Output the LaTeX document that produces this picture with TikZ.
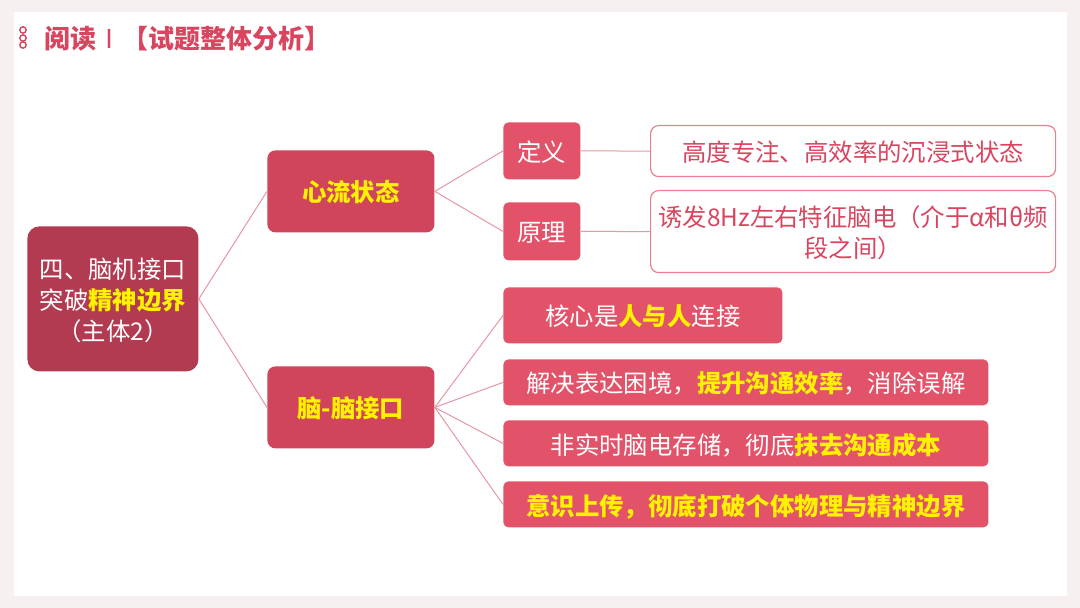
\documentclass[tikz,border=0pt]{standalone}
\usepackage{fontspec}
\setmainfont{Noto Sans CJK SC}
\definecolor{pagebg}{HTML}{F6F0F0}
\definecolor{titlered}{HTML}{D9455F}
\definecolor{rootred}{HTML}{B23A51}
\definecolor{midred}{HTML}{D0455C}
\definecolor{leafred}{HTML}{E2536A}
\definecolor{linkpink}{HTML}{E597A5}
\definecolor{framepink}{HTML}{E7808F}
\definecolor{hl}{HTML}{FFF200}
\newcommand{\hy}[1]{{\bfseries\color{hl}#1}}

\begin{document}
\begin{tikzpicture}[x=0.5pt,y=-0.5pt,font=\fontsize{12.2}{15.5}\selectfont,text depth=0pt,align=center,
  box/.style={anchor=north west,inner sep=0pt,text=white},
  rootbox/.style={box,fill=rootred,rounded corners=6pt},
  midbox/.style={box,fill=midred,rounded corners=4pt,font=\fontsize{12.2}{15.5}\selectfont\bfseries,text=hl},
  leafbox/.style={box,fill=leafred,rounded corners=2.5pt},
  notebox/.style={box,fill=white,draw=framepink,line width=0.6pt,rounded corners=4pt,text=titlered},
  link/.style={draw=linkpink,line width=0.5pt}]
\useasboundingbox (0,0) rectangle (1080,608);
\fill[pagebg] (0,0) rectangle (1080,608);
\fill[white] (14,12) rectangle (1067,596);

% title
\foreach \y in {30,38,45}
  \draw[titlered,line width=0.7pt] (23,\y) circle (3.2);
\node[anchor=west,text=titlered,font=\fontsize{13}{15}\selectfont\bfseries] (title) at (37,37)
  {阅读{\mdseries Ⅰ}【试题整体分析】};

% boxes
\node[rootbox,minimum width=85.5pt,minimum height=72.5pt] (root)  at ( 27,226)
  {四、脑机接口\\突破\hy{精神边界}\\（主体2）};
\node[midbox,minimum width=83.5pt,minimum height=41pt]    (flow)  at (267,150) {心流状态};
\node[midbox,minimum width=83.5pt,minimum height=41pt]    (b2b)   at (267,366) {脑-脑接口};

\node[leafbox,minimum width=38.5pt,minimum height=28.5pt] (defn)  at (503,122) {定义};
\node[leafbox,minimum width=38.5pt,minimum height=29pt]   (prin)  at (503,202) {原理};
\node[notebox,minimum width=202.5pt,minimum height=25.5pt] (defnT) at (650,125)
  {高度专注、高效率的沉浸式状态};
\node[notebox,minimum width=202.5pt,minimum height=41pt]  (prinT) at (650,190)
  {诱发8Hz左右特征脑电（介于α和θ频\\段之间）};

\node[leafbox,minimum width=139.5pt,minimum height=28pt]  (core)  at (503,287) {核心是\hy{人与人}连接};
\node[leafbox,minimum width=242.5pt,minimum height=23pt]  (solve) at (503,359)
  {解决表达困境，\hy{提升沟通效率}，消除误解};
\node[leafbox,minimum width=242.5pt,minimum height=23pt]  (store) at (503,420)
  {非实时脑电存储，彻底\hy{抹去沟通成本}};
\node[leafbox,minimum width=242.5pt,minimum height=23pt]  (upld)  at (503,481)
  {\hy{意识上传，彻底打破个体物理与精神边界}};

% connectors
\foreach \a/\b in {root/flow,root/b2b,flow/defn,flow/prin,defn/defnT,prin/prinT,
                   b2b/core,b2b/solve,b2b/store,b2b/upld}
  \path[link] (\a.east) -- (\b.west);
\end{tikzpicture}
\end{document}
